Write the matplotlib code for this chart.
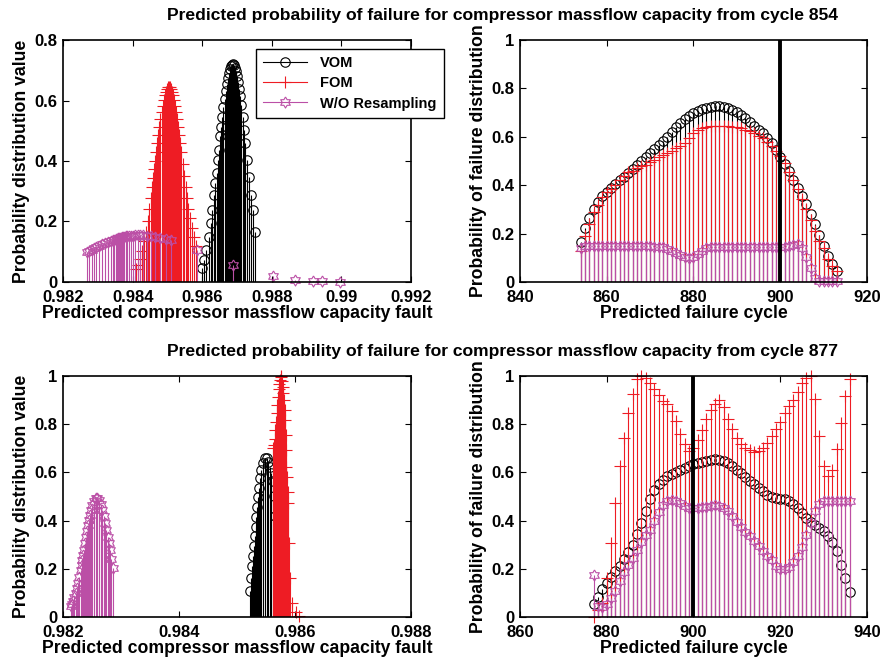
import numpy as np
import matplotlib.pyplot as plt
from matplotlib.lines import Line2D
from matplotlib.legend_handler import HandlerLine2D

plt.rcParams['font.family'] = ['Liberation Sans', 'DejaVu Sans']
plt.rcParams['font.weight'] = 'bold'
plt.rcParams['axes.labelweight'] = 'bold'

# ---------------- cycle 854 : fault estimate distribution ----------------
vom1_x = [0.98600, 0.98605, 0.98612, 0.98619, 0.98624, 0.98629, 0.98634, 0.98638, 0.98641, 0.98645,
          0.98648, 0.98652, 0.98655, 0.98658, 0.98661, 0.98664, 0.98667, 0.98670, 0.98673, 0.98676,
          0.98679, 0.98682, 0.98685, 0.98688, 0.98691, 0.98694, 0.98697, 0.98700, 0.98703, 0.98706,
          0.98709, 0.98712, 0.98716, 0.98720, 0.98724, 0.98729, 0.98734, 0.98740, 0.98745, 0.98752]
vom1_y = [0.045, 0.072, 0.105, 0.150, 0.196, 0.238, 0.286, 0.327, 0.359, 0.403,
          0.437, 0.481, 0.514, 0.546, 0.577, 0.605, 0.631, 0.655, 0.675, 0.692,
          0.705, 0.714, 0.719, 0.720, 0.716, 0.708, 0.697, 0.681, 0.662, 0.639,
          0.614, 0.586, 0.546, 0.503, 0.459, 0.403, 0.348, 0.286, 0.238, 0.166]

fom1_x = [0.98411, 0.98416, 0.98421, 0.98427, 0.98433, 0.98438, 0.98443, 0.98448, 0.98452, 0.98456,
          0.98459, 0.98462, 0.98465, 0.98468, 0.98471, 0.98474, 0.98477, 0.98480, 0.98483, 0.98486,
          0.98489, 0.98492, 0.98495, 0.98498, 0.98501, 0.98504, 0.98507, 0.98510, 0.98513, 0.98516,
          0.98519, 0.98522, 0.98525, 0.98528, 0.98531, 0.98534, 0.98537, 0.98540, 0.98544, 0.98548,
          0.98552, 0.98556, 0.98560, 0.98565, 0.98570, 0.98576, 0.98583]
fom1_y = [0.043, 0.057, 0.075, 0.101, 0.134, 0.165, 0.202, 0.242, 0.277, 0.314,
          0.343, 0.372, 0.401, 0.430, 0.459, 0.487, 0.514, 0.539, 0.562, 0.583,
          0.601, 0.617, 0.629, 0.638, 0.643, 0.645, 0.643, 0.638, 0.629, 0.617,
          0.601, 0.583, 0.562, 0.539, 0.514, 0.487, 0.459, 0.430, 0.391, 0.352,
          0.314, 0.277, 0.242, 0.210, 0.180, 0.150, 0.118]

wo1_x = [0.98269, 0.98275, 0.98282, 0.98289, 0.98296, 0.98304, 0.98313, 0.98322, 0.98330, 0.98338,
         0.98343, 0.98347, 0.98351, 0.98354, 0.98357, 0.98360, 0.98363, 0.98366, 0.98369, 0.98372,
         0.98376, 0.98380, 0.98384, 0.98389, 0.98394, 0.98400, 0.98407, 0.98414, 0.98421, 0.98430,
         0.98440, 0.98452, 0.98465, 0.98480, 0.98495, 0.98510, 0.98584, 0.98687, 0.98803, 0.98866,
         0.98917, 0.98944, 0.98995]
wo1_y = [0.099, 0.103, 0.107, 0.112, 0.116, 0.120, 0.124, 0.128, 0.132, 0.136,
         0.138, 0.140, 0.141, 0.142, 0.144, 0.145, 0.146, 0.147, 0.148, 0.149,
         0.150, 0.151, 0.152, 0.152, 0.153, 0.153, 0.154, 0.154, 0.155, 0.154,
         0.153, 0.151, 0.149, 0.146, 0.142, 0.139, 0.107, 0.055, 0.019, 0.008,
         0.002, 0.002, 0.000]

# ---------------- cycle 854 : failure cycle distribution ----------------
cyc2 = np.arange(854, 914)
vom2 = [0.167, 0.222, 0.265, 0.300, 0.330, 0.356, 0.373, 0.390, 0.404, 0.420,
        0.435, 0.452, 0.468, 0.485, 0.500, 0.516, 0.531, 0.548, 0.565, 0.583,
        0.600, 0.620, 0.640, 0.656, 0.672, 0.686, 0.698, 0.707, 0.715, 0.721,
        0.725, 0.727, 0.727, 0.724, 0.718, 0.711, 0.703, 0.692, 0.678, 0.662,
        0.645, 0.630, 0.614, 0.595, 0.573, 0.545, 0.515, 0.488, 0.457, 0.423,
        0.390, 0.357, 0.321, 0.281, 0.240, 0.194, 0.149, 0.109, 0.074, 0.045]
fom2 = [0.130, 0.190, 0.240, 0.290, 0.320, 0.350, 0.370, 0.385, 0.400, 0.420,
        0.440, 0.455, 0.460, 0.470, 0.478, 0.485, 0.495, 0.505, 0.515, 0.525,
        0.535, 0.540, 0.555, 0.560, 0.575, 0.595, 0.615, 0.630, 0.638, 0.642,
        0.643, 0.643, 0.643, 0.643, 0.643, 0.642, 0.640, 0.636, 0.630, 0.625,
        0.615, 0.605, 0.594, 0.580, 0.560, 0.540, 0.520, 0.490, 0.455, 0.420,
        0.385, 0.345, 0.300, 0.255, 0.210, 0.170, 0.140, 0.095, 0.065, 0.045]
wo2 = [0.140, 0.148, 0.150, 0.150, 0.150, 0.149, 0.148, 0.148, 0.147, 0.147,
       0.147, 0.147, 0.147, 0.147, 0.147, 0.147, 0.147, 0.146, 0.145, 0.143,
       0.138, 0.130, 0.120, 0.110, 0.103, 0.100, 0.103, 0.115, 0.130, 0.140,
       0.143, 0.143, 0.143, 0.143, 0.143, 0.143, 0.143, 0.143, 0.143, 0.143,
       0.143, 0.143, 0.143, 0.143, 0.143, 0.143, 0.143, 0.145, 0.148, 0.152,
       0.155, 0.140, 0.105, 0.057, 0.018, 0.005, 0.003, 0.003, 0.003, 0.005]

# ---------------- cycle 877 : fault estimate distribution ----------------
vom3_x = [0.985231, 0.985249, 0.985266, 0.985277, 0.985294, 0.985306, 0.985323, 0.985335, 0.985346, 0.985363,
          0.985381, 0.985404, 0.985421, 0.985450, 0.985479, 0.985508, 0.985537, 0.985566, 0.985594, 0.985623,
          0.985645, 0.985660]
vom3_y = [0.106, 0.161, 0.210, 0.252, 0.294, 0.335, 0.375, 0.417, 0.458, 0.499,
          0.534, 0.576, 0.610, 0.638, 0.658, 0.658, 0.645, 0.624, 0.597, 0.563,
          0.500, 0.420]

fom3_x = [0.985624, 0.985635, 0.985646, 0.985658, 0.985669, 0.985681, 0.985692, 0.985704, 0.985715, 0.985727,
          0.985738, 0.985750, 0.985762, 0.985773, 0.985785, 0.985796, 0.985808, 0.985819, 0.985831, 0.985840,
          0.985845, 0.985850, 0.985860, 0.985870, 0.985880, 0.985900, 0.985920, 0.985940, 0.986010, 0.986070]
fom3_y = [0.700, 0.715, 0.740, 0.775, 0.810, 0.845, 0.880, 0.913, 0.945, 0.968,
          0.985, 1.000, 0.995, 0.980, 0.955, 0.930, 0.900, 0.860, 0.816, 0.754,
          0.692, 0.623, 0.582, 0.520, 0.472, 0.306, 0.161, 0.058, 0.019, 0.005]

wo3_x = [0.982133, 0.982155, 0.982173, 0.982196, 0.982219, 0.982240, 0.982260, 0.982283, 0.982306, 0.982320,
         0.982335, 0.982350, 0.982364, 0.982378, 0.982392, 0.982415, 0.982439, 0.982453, 0.982467, 0.982488,
         0.982508, 0.982536, 0.982565, 0.982594, 0.982623, 0.982651, 0.982680, 0.982704, 0.982727, 0.982747,
         0.982767, 0.982790, 0.982814, 0.982834, 0.982854]
wo3_y = [0.044, 0.055, 0.065, 0.082, 0.100, 0.120, 0.140, 0.168, 0.196, 0.216,
         0.237, 0.258, 0.279, 0.306, 0.334, 0.358, 0.382, 0.403, 0.423, 0.445,
         0.465, 0.480, 0.492, 0.492, 0.486, 0.468, 0.444, 0.418, 0.389, 0.362,
         0.334, 0.307, 0.279, 0.240, 0.203]

# ---------------- cycle 877 : failure cycle distribution ----------------
cyc4 = np.arange(877, 937)
vom4 = [0.055, 0.085, 0.115, 0.140, 0.165, 0.190, 0.212, 0.240, 0.268, 0.300,
        0.345, 0.390, 0.440, 0.488, 0.525, 0.550, 0.570, 0.583, 0.592, 0.600,
        0.610, 0.620, 0.628, 0.635, 0.640, 0.645, 0.648, 0.652, 0.654, 0.653,
        0.648, 0.638, 0.627, 0.612, 0.598, 0.582, 0.565, 0.550, 0.535, 0.522,
        0.508, 0.497, 0.493, 0.490, 0.488, 0.482, 0.470, 0.452, 0.430, 0.410,
        0.395, 0.380, 0.368, 0.355, 0.335, 0.310, 0.272, 0.215, 0.162, 0.105]
fom4 = [0.000, 0.030, 0.060, 0.160, 0.308, 0.474, 0.627, 0.744, 0.848, 0.924,
        0.986, 1.000, 0.993, 0.972, 0.945, 0.920, 0.896, 0.882, 0.855, 0.813,
        0.758, 0.717, 0.690, 0.700, 0.735, 0.775, 0.820, 0.860, 0.885, 0.900,
        0.870, 0.820, 0.780, 0.744, 0.717, 0.700, 0.693, 0.685, 0.688, 0.700,
        0.720, 0.750, 0.779, 0.810, 0.845, 0.876, 0.899, 0.935, 0.970, 0.993,
        1.000, 0.906, 0.751, 0.627, 0.585, 0.610, 0.698, 0.806, 0.917, 0.989]
wo4 = [0.173, 0.045, 0.040, 0.055, 0.080, 0.110, 0.150, 0.185, 0.215, 0.245,
       0.280, 0.310, 0.340, 0.360, 0.398, 0.436, 0.465, 0.480, 0.485, 0.482,
       0.472, 0.460, 0.453, 0.451, 0.452, 0.455, 0.457, 0.460, 0.465, 0.462,
       0.452, 0.440, 0.420, 0.395, 0.372, 0.352, 0.335, 0.315, 0.295, 0.275,
       0.255, 0.235, 0.212, 0.200, 0.200, 0.208, 0.230, 0.255, 0.290, 0.340,
       0.390, 0.440, 0.467, 0.480, 0.482, 0.482, 0.482, 0.482, 0.482, 0.482]

# tick values / labels
fault_ticks_top = [0.982, 0.984, 0.986, 0.988, 0.99, 0.992]
fault_labels_top = ['0.982', '0.984', '0.986', '0.988', '0.99', '0.992']
fault_ticks_bot = [0.982, 0.984, 0.986, 0.988]
fault_labels_bot = ['0.982', '0.984', '0.986', '0.988']
prob_ticks_top = [0, 0.2, 0.4, 0.6, 0.8]
prob_labels_top = ['0', '0.2', '0.4', '0.6', '0.8']
prob_ticks = [0, 0.2, 0.4, 0.6, 0.8, 1]
prob_labels = ['0', '0.2', '0.4', '0.6', '0.8', '1']
cycle_ticks_top = [840, 860, 880, 900, 920]
cycle_ticks_bot = [860, 880, 900, 920, 940]
true_failure = 900

labels = ['VOM', 'FOM', 'W/O Resampling']
titles = ['Predicted probability of failure for compressor massflow capacity from cycle 854',
          'Predicted probability of failure for compressor massflow capacity from cycle 877']

c_vom = 'black'
c_fom = '#ee1c24'
c_wo = '#bb4fa6'

# six pointed star marker (matlab hexagram)
ang = np.pi / 2 + np.arange(13) * np.pi / 6
rad = np.where(np.arange(13) % 2 == 0, 1.0, 0.58)
hexagram = list(zip(rad * np.cos(ang), rad * np.sin(ang)))

styles = [(c_vom, 'o', 6.8), (c_fom, '+', 8), (c_wo, hexagram, 8)]

lab_fs = 12.7


def stems(ax, x, y, style):
    color, marker, ms = style
    st = ax.stem(x, y, basefmt=' ')
    st.stemlines.set_color(color)
    st.stemlines.set_linewidth(0.8)
    st.markerline.set_marker(marker)
    st.markerline.set_markersize(ms)
    st.markerline.set_markerfacecolor('none')
    st.markerline.set_markeredgecolor(color)
    st.markerline.set_markeredgewidth(0.8)
    st.markerline.set_linestyle('none')
    st.markerline.set_clip_on(False)
    st.baseline.set_visible(False)


def style_axes(ax):
    ax.tick_params(direction='in', top=True, right=True, length=4, width=0.8, labelsize=12)
    ax.tick_params(axis='x', pad=6)
    ax.tick_params(axis='y', pad=4)
    for s in ax.spines.values():
        s.set_linewidth(1.2)


fig = plt.figure(figsize=(8.84, 6.69), dpi=100)
ax1 = fig.add_axes([0.0713, 0.5785, 0.3937, 0.3617])
ax2 = fig.add_axes([0.5882, 0.5785, 0.3925, 0.3617])
ax3 = fig.add_axes([0.0713, 0.0777, 0.3937, 0.3603])
ax4 = fig.add_axes([0.5882, 0.0777, 0.3925, 0.3603])

# top left
stems(ax1, vom1_x, vom1_y, styles[0])
stems(ax1, fom1_x, fom1_y, styles[1])
stems(ax1, wo1_x, wo1_y, styles[2])
ax1.set_xlim(0.982, 0.992)
ax1.set_ylim(0, 0.8)
ax1.set_xticks(fault_ticks_top, fault_labels_top)
ax1.set_yticks(prob_ticks_top, prob_labels_top)
ax1.set_ylabel('Probability distribution value', fontsize=lab_fs, labelpad=3)
ax1.set_xlabel('Predicted compressor massflow capacity fault', fontsize=lab_fs, labelpad=0)

# top right
stems(ax2, cyc2, vom2, styles[0])
stems(ax2, cyc2, fom2, styles[1])
stems(ax2, cyc2, wo2, styles[2])
ax2.axvline(true_failure, color='black', linewidth=2.8)
ax2.set_xlim(840, 920)
ax2.set_ylim(0, 1)
ax2.set_xticks(cycle_ticks_top)
ax2.set_yticks(prob_ticks, prob_labels)
ax2.set_ylabel('Probability of failure distribution', fontsize=lab_fs, labelpad=3)
ax2.set_xlabel('Predicted failure cycle', fontsize=lab_fs, labelpad=0)

# bottom left
stems(ax3, vom3_x, vom3_y, styles[0])
stems(ax3, fom3_x, fom3_y, styles[1])
stems(ax3, wo3_x, wo3_y, styles[2])
ax3.set_xlim(0.982, 0.988)
ax3.set_ylim(0, 1)
ax3.set_xticks(fault_ticks_bot, fault_labels_bot)
ax3.set_yticks(prob_ticks, prob_labels)
ax3.set_ylabel('Probability distribution value', fontsize=lab_fs, labelpad=3)
ax3.set_xlabel('Predicted compressor massflow capacity fault', fontsize=lab_fs, labelpad=0)

# bottom right
stems(ax4, cyc4, vom4, styles[0])
stems(ax4, cyc4, fom4, styles[1])
stems(ax4, cyc4, wo4, styles[2])
ax4.axvline(true_failure, color='black', linewidth=2.8)
ax4.set_xlim(860, 940)
ax4.set_ylim(0, 1)
ax4.set_xticks(cycle_ticks_bot)
ax4.set_yticks(prob_ticks, prob_labels)
ax4.set_ylabel('Probability of failure distribution', fontsize=lab_fs, labelpad=3)
ax4.set_xlabel('Predicted failure cycle', fontsize=lab_fs, labelpad=0)

for ax in (ax1, ax2, ax3, ax4):
    style_axes(ax)

fig.text(0.568, 0.977, titles[0], ha='center', va='center', fontsize=12.6, fontweight='bold')
fig.text(0.568, 0.474, titles[1], ha='center', va='center', fontsize=12.6, fontweight='bold')


# legend with the marker at the end of the line, like matlab
class EndMarker(HandlerLine2D):
    def get_xdata(self, legend, xdescent, ydescent, width, height, fontsize):
        return [-xdescent, -xdescent + width], [-xdescent + width]


handles = []
for color, marker, ms in styles:
    handles.append(Line2D([], [], color=color, linewidth=0.8, marker=marker, markersize=ms,
                          markerfacecolor='none', markeredgecolor=color, markeredgewidth=0.8))
leg = ax1.legend(handles, labels, loc='upper left', bbox_to_anchor=(256 / 884, 1 - 49 / 669),
                 bbox_transform=fig.transFigure, borderaxespad=0, fancybox=False,
                 edgecolor='black', framealpha=1, fontsize=10.5, handlelength=3.0,
                 handletextpad=0.9, labelspacing=0.42, borderpad=0.5,
                 handler_map={Line2D: EndMarker()})
leg.get_frame().set_linewidth(1.0)

fig.savefig('out.png', dpi=100)
